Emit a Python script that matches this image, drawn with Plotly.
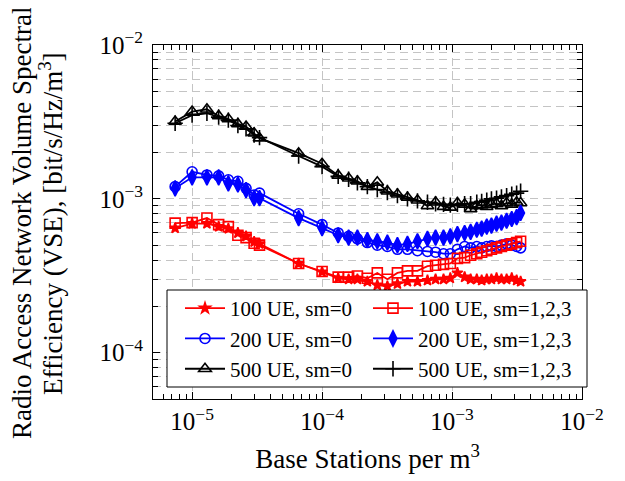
import plotly.graph_objects as go

# Base stations per m^3 (x values)
bs_density = [7.4e-6, 1.0e-5, 1.3e-5, 1.6e-5, 1.9e-5, 2.25e-5, 2.6e-5, 3.0e-5, 3.3e-5,
              6.6e-5, 1.0e-4, 1.33e-4, 1.6e-4, 1.87e-4, 2.23e-4, 2.66e-4, 3.18e-4,
              3.8e-4, 4.54e-4, 5.42e-4, 6.47e-4, 7.47e-4, 8.6e-4, 9.7e-4, 1.1e-3,
              1.25e-3, 1.39e-3, 1.55e-3, 1.69e-3, 1.85e-3, 2.01e-3, 2.2e-3, 2.4e-3,
              2.63e-3, 2.88e-3, 3.14e-3, 3.37e-3]

# VSE values in units of 1e-3 bit/s/Hz/m^3
ue100_sm0 = [0.645, 0.69, 0.69, 0.66, 0.64, 0.60, 0.57, 0.525, 0.51, 0.38, 0.335, 0.305,
             0.30, 0.30, 0.29, 0.275, 0.27, 0.28, 0.29, 0.29, 0.295, 0.30, 0.30, 0.305,
             0.33, 0.31, 0.30, 0.30, 0.295, 0.30, 0.30, 0.305, 0.30, 0.30, 0.305, 0.295, 0.29]
ue100_sm123 = [0.695, 0.70, 0.75, 0.68, 0.66, 0.58, 0.56, 0.515, 0.50, 0.38, 0.337, 0.31,
               0.31, 0.315, 0.305, 0.33, 0.30, 0.33, 0.34, 0.34, 0.365, 0.37, 0.375, 0.38,
               0.41, 0.415, 0.43, 0.44, 0.45, 0.46, 0.47, 0.48, 0.49, 0.50, 0.51, 0.52, 0.53]
ue200_sm0 = [1.20, 1.50, 1.43, 1.41, 1.33, 1.30, 1.17, 1.06, 1.09, 0.80, 0.68, 0.60,
             0.57, 0.55, 0.52, 0.50, 0.49, 0.47, 0.47, 0.46, 0.455, 0.45, 0.44, 0.44,
             0.47, 0.49, 0.48, 0.49, 0.48, 0.49, 0.495, 0.49, 0.50, 0.51, 0.50, 0.49, 0.48]
ue200_sm123 = [1.17, 1.38, 1.38, 1.38, 1.26, 1.24, 1.14, 1.01, 1.01, 0.75, 0.645, 0.58,
               0.56, 0.56, 0.54, 0.53, 0.52, 0.50, 0.51, 0.53, 0.55, 0.56, 0.56, 0.57,
               0.59, 0.60, 0.61, 0.63, 0.64, 0.66, 0.67, 0.69, 0.70, 0.72, 0.74, 0.76, 0.81]
ue500_sm0 = [3.18, 3.69, 3.82, 3.46, 3.30, 3.07, 2.95, 2.67, 2.48, 1.98, 1.69, 1.42,
             1.36, 1.30, 1.20, 1.28, 1.12, 1.07, 1.02, 0.98, 0.90, 0.95, 0.89, 0.88,
             0.94, 0.92, 0.86, 0.90, 0.91, 0.89, 0.92, 0.93, 0.90, 0.94, 0.92, 0.95, 0.94]
ue500_sm123 = [3.10, 3.50, 3.60, 3.40, 3.25, 3.00, 2.85, 2.60, 2.50, 1.90, 1.62, 1.40,
               1.34, 1.27, 1.20, 1.15, 1.10, 1.05, 1.00, 0.97, 0.95, 0.93, 0.92, 0.91,
               0.92, 0.93, 0.93, 0.95, 0.96, 0.98, 1.00, 1.01, 1.03, 1.05, 1.07, 1.09, 1.12]

x_ticks = [1e-5, 1e-4, 1e-3, 1e-2]
x_ticklabels = ["10<sup>−5</sup>", "10<sup>−4</sup>", "10<sup>−3</sup>", "10<sup>−2</sup>"]
y_ticks = [1e-4, 1e-3, 1e-2]
y_ticklabels = ["10<sup>−4</sup>", "10<sup>−3</sup>", "10<sup>−2</sup>"]

FONT = "Liberation Serif"
RED, BLUE, BLACK = "#ff0000", "#0000ff", "#000000"

series = [
    ("100 UE, sm=0", ue100_sm0, RED, "star", 8, "legend"),
    ("200 UE, sm=0", ue200_sm0, BLUE, "circle-open", 10, "legend"),
    ("500 UE, sm=0", ue500_sm0, BLACK, "triangle-up-open", 11, "legend"),
    ("100 UE, sm=1,2,3", ue100_sm123, RED, "square-open", 10, "legend2"),
    ("200 UE, sm=1,2,3", ue200_sm123, BLUE, "diamond-tall", 11, "legend2"),
    ("500 UE, sm=1,2,3", ue500_sm123, BLACK, "cross-thin-open", 11, "legend2"),
]

fig = go.Figure()
for name, vals, col, sym, size, lg in series:
    fig.add_trace(go.Scatter(
        x=bs_density, y=[v * 1e-3 for v in vals], name=name, mode="lines+markers",
        line=dict(color=col, width=1.8),
        marker=dict(symbol=sym, size=size, color=col, line=dict(color=col, width=1.6)),
        legend=lg,
    ))

axis_common = dict(
    type="log", showline=True, linecolor="black", linewidth=1, mirror="allticks",
    ticks="inside", ticklen=7, tickcolor="black", tickwidth=1,
    tickmode="array", automargin=False,
    tickfont=dict(family=FONT, size=25, color="black"),
    showgrid=True, gridcolor="#c4c4c4", gridwidth=1, griddash="8px,5px",
    zeroline=False,
)

fig.update_xaxes(**axis_common, range=[-5.30103, -2],
                 tickvals=x_ticks, ticktext=x_ticklabels,
                 minor=dict(ticks="inside", ticklen=5, tickcolor="black", dtick="D1",
                            showgrid=False),
                 title=dict(text="Base Stations per m<sup>3</sup>",
                            font=dict(family=FONT, size=27, color="black"), standoff=15))
fig.update_yaxes(**axis_common, range=[-4.30103, -2],
                 tickvals=y_ticks, ticktext=y_ticklabels, ticklabelstandoff=4,
                 minor=dict(ticks="inside", ticklen=5, tickcolor="black", dtick="D1",
                            showgrid=True, gridcolor="#c4c4c4", griddash="8px,5px"))

# page body has an 8px margin, so the figure is drawn offset by 8px
OFF = 8
W, H = 625 - OFF, 481 - OFF
L, R, T, B = 145, 43, 37, 82
pw, ph = W - L - R, H - T - B

def px2x(sx):
    return (sx - OFF - L) / pw

def py2y(sy):
    return (H - B - (sy - OFF)) / ph

# Y axis title as two rotated lines
fig.add_annotation(text="Radio Access Network Volume Spectral", xref="paper", yref="paper",
                   x=px2x(22), y=py2y(223), xanchor="center", yanchor="middle",
                   textangle=-90, showarrow=False,
                   font=dict(family=FONT, size=27, color="black"))
fig.add_annotation(text="Efficiency (VSE), [bit/s/Hz/m<sup>3</sup>]", xref="paper", yref="paper",
                   x=px2x(51), y=py2y(224), xanchor="center", yanchor="middle",
                   textangle=-90, showarrow=False,
                   font=dict(family=FONT, size=27, color="black"))

# legend box
fig.add_shape(type="rect", xref="paper", yref="paper",
              x0=px2x(167), x1=px2x(587), y0=py2y(387), y1=py2y(290),
              line=dict(color="black", width=1), fillcolor="white", layer="above")

leg_common = dict(bgcolor="rgba(0,0,0,0)", borderwidth=0, orientation="v",
                  font=dict(family=FONT, size=21, color="black"),
                  xanchor="left", yanchor="top", itemwidth=40, tracegroupgap=0)

fig.update_layout(
    width=W, height=H,
    margin=dict(l=L, r=R, t=T, b=B, autoexpand=False),
    paper_bgcolor="white", plot_bgcolor="white",
    showlegend=True,
    legend=dict(**leg_common, x=px2x(180), y=py2y(288)),
    legend2=dict(**leg_common, x=px2x(368), y=py2y(288)),
    font=dict(family=FONT, color="black"),
)

fig.write_html("out.html", config={"displayModeBar": False})
